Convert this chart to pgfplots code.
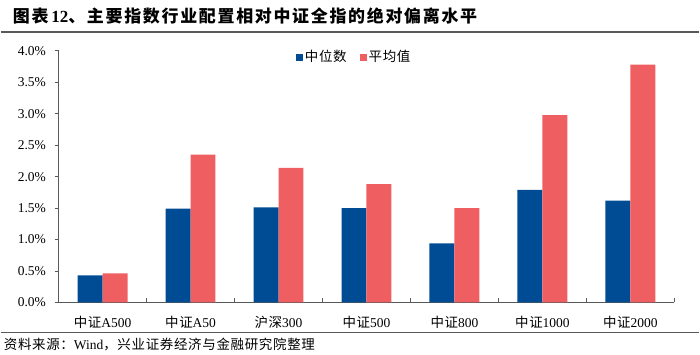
\documentclass[border=0pt]{standalone}
\usepackage{pgfplots}
\pgfplotsset{compat=1.18}
\usepackage{fontspec}
\setmainfont{Liberation Serif}
\newfontfamily\cjk{Noto Sans CJK SC}
\newfontfamily\cjkt[LetterSpace=10]{Noto Sans CJK SC}
\newfontfamily\cjks[LetterSpace=5]{Noto Sans CJK SC}
\definecolor{cblue}{RGB}{0,76,148}
\definecolor{cred}{RGB}{239,94,96}
\definecolor{axgray}{RGB}{89,89,89}
\pgfplotstableread{
x med mean
0 0.43 0.46
1 1.49 2.35
2 1.51 2.14
3 1.50 1.88
4 0.94 1.50
5 1.79 2.98
6 1.62 3.78
}\datatab
\begin{document}
\fontsize{13.5pt}{16pt}\selectfont
\begin{tikzpicture}
\path (0pt,0pt) rectangle (700pt,355pt);
\node[anchor=west, inner sep=0pt] at (12pt,339pt) {\fontsize{17pt}{20pt}\selectfont\bfseries{\cjkt\bfseries 图表}\,12{\cjkt\bfseries 、主要指数行业配置相对中证全指的绝对偏离水平}};
\draw[axgray, line width=1.4pt] (0pt,323pt) -- (700pt,323pt);
\draw[axgray, line width=1pt] (0pt,22pt) -- (700pt,22pt);
\node[anchor=west, inner sep=0pt] at (3pt,10pt) {\fontsize{13.5pt}{15pt}\selectfont{\cjks 资料来源：}Wind{\cjks ，兴业证券经济与金融研究院整理}};
\begin{axis}[
  at={(58pt,52pt)}, anchor=south west,
  width=617pt, height=252pt, scale only axis,
  xmin=-0.5, xmax=6.5, ymin=0, ymax=4,
  ybar=0pt, bar width=25pt,
  axis x line*=bottom, axis y line*=left,
  axis line style={axgray, line width=0.8pt, -},
  xtick={0,...,6},
  xticklabels={{\cjks 中证}A500,{\cjks 中证}A50,{\cjks 沪深}300,{\cjks 中证}500,{\cjks 中证}800,{\cjks 中证}1000,{\cjks 中证}2000},
  major x tick style={draw=none},
  minor xtick={-0.5,0.5,...,6.5},
  minor x tick style={axgray, line width=0.8pt},
  minor tick length=4pt,
  xtick align=inside,
  ytick={0,0.5,...,4},
  ytick align=outside,
  major y tick style={axgray, line width=0.8pt},
  major tick length=4pt,
  yticklabel={\pgfmathprintnumber[fixed,fixed zerofill,precision=1]{\tick}\%},
  /pgf/number format/assume math mode=true,
  ticklabel style={font=\fontsize{13.5pt}{16pt}\selectfont, text=black},
  yticklabel style={xshift=-4pt},
  xticklabel style={yshift=-9pt},
  legend style={at={(0.48,0.975)}, anchor=center, draw=none, fill=none,
    legend columns=2, font=\fontsize{13.5pt}{16pt}\selectfont\cjks,
    /tikz/every even column/.append style={column sep=11pt}},
  legend image code/.code={\fill[#1] (0pt,-3.5pt) rectangle (7pt,3.5pt);},
]
\addplot[fill=cblue, draw=none] table[x=x, y=med] {\datatab};
\addplot[fill=cred, draw=none] table[x=x, y=mean] {\datatab};
\legend{中位数,平均值}
\end{axis}
\end{tikzpicture}
\end{document}
